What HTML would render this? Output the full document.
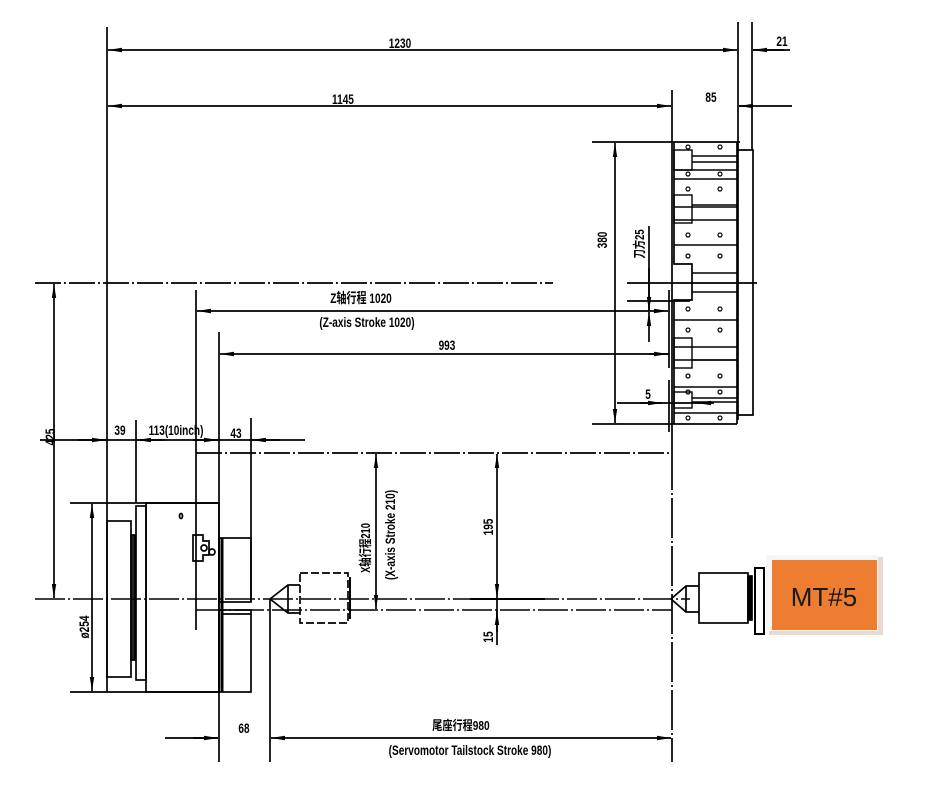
<!DOCTYPE html>
<html><head><meta charset="utf-8"><style>
html,body{margin:0;padding:0;background:#fff;}
svg{display:block}
text{font-family:"Liberation Sans","Noto Sans CJK SC",sans-serif;font-weight:bold;fill:#000;}
</style></head><body>
<svg width="936" height="801" viewBox="0 0 936 801" xmlns="http://www.w3.org/2000/svg">
<defs>
<marker id="a" viewBox="0 0 14 6" refX="14" refY="3" markerWidth="14" markerHeight="6" orient="auto-start-reverse" markerUnits="userSpaceOnUse"><path d="M0,0.8 L14,3 L0,5.2Z" fill="#000"/></marker>
</defs>
<g stroke="#000" stroke-width="1.7" fill="none">
<!-- top dims -->
<line x1="107" y1="27" x2="107" y2="692"/>
<line x1="738" y1="22" x2="738" y2="420"/>
<line x1="752" y1="22" x2="752" y2="150"/>
<line x1="672" y1="90" x2="672" y2="450"/>
<line x1="108" y1="50" x2="737" y2="50" marker-start="url(#a)" marker-end="url(#a)"/>
<line x1="753" y1="50" x2="790" y2="50"/>
<line x1="784" y1="50" x2="753" y2="50" marker-end="url(#a)"/>
<line x1="108" y1="106" x2="671" y2="106" marker-start="url(#a)" marker-end="url(#a)"/>
<line x1="739" y1="106" x2="792" y2="106"/>
<line x1="752" y1="106" x2="739" y2="106" marker-end="url(#a)"/>
<!-- turret -->
<line x1="592" y1="142" x2="740" y2="142"/>
<line x1="592" y1="424" x2="737" y2="424"/>
<line x1="615" y1="143" x2="615" y2="423" marker-start="url(#a)" marker-end="url(#a)"/>
<path d="M674 142 V264 H692 V300 H674 V424"/>
<line x1="737" y1="142" x2="737" y2="424"/>
<path d="M738 150 H753 V415 H738"/>
<g stroke-width="1.4">
<line x1="674" y1="170" x2="737" y2="170"/><line x1="674" y1="179" x2="737" y2="179"/>
<line x1="674" y1="207" x2="737" y2="207"/><line x1="674" y1="220" x2="737" y2="220"/>
<line x1="674" y1="245" x2="737" y2="245"/><line x1="692" y1="273" x2="737" y2="273"/>
<line x1="692" y1="292" x2="737" y2="292"/><line x1="674" y1="320" x2="737" y2="320"/>
<line x1="674" y1="347" x2="737" y2="347"/><line x1="674" y1="360" x2="737" y2="360"/>
<line x1="674" y1="387" x2="737" y2="387"/><line x1="674" y1="413" x2="737" y2="413"/>
<rect x="674" y="150" width="18" height="20"/><rect x="674" y="195" width="18" height="28"/>
<rect x="674" y="338" width="18" height="30"/><rect x="674" y="392" width="18" height="16"/>
<line x1="692" y1="156" x2="737" y2="156"/><line x1="692" y1="162" x2="737" y2="162"/>
<line x1="692" y1="205" x2="737" y2="205"/><line x1="692" y1="360" x2="737" y2="360"/>
<line x1="692" y1="398" x2="737" y2="398"/><line x1="692" y1="402" x2="737" y2="402"/>
</g>
<g stroke-width="1.2">
<circle cx="688" cy="147" r="2"/><circle cx="720" cy="147" r="2"/>
<circle cx="688" cy="174" r="2"/><circle cx="720" cy="174" r="2"/>
<circle cx="688" cy="189" r="2"/><circle cx="720" cy="189" r="2"/>
<circle cx="688" cy="235" r="2"/><circle cx="720" cy="235" r="2"/>
<circle cx="688" cy="256" r="2"/><circle cx="720" cy="256" r="2"/>
<circle cx="688" cy="309" r="2"/><circle cx="720" cy="309" r="2"/>
<circle cx="688" cy="330" r="2"/><circle cx="720" cy="330" r="2"/>
<circle cx="688" cy="376" r="2"/><circle cx="720" cy="376" r="2"/>
<circle cx="688" cy="392" r="2"/><circle cx="720" cy="392" r="2"/>
<circle cx="688" cy="418" r="2"/><circle cx="720" cy="418" r="2"/>
</g>
<line x1="627" y1="283" x2="757" y2="283"/>
<line x1="627" y1="301" x2="690" y2="301"/>
<line x1="669" y1="290" x2="669" y2="368"/>
<line x1="669" y1="380" x2="669" y2="432"/>
<line x1="649" y1="226" x2="649" y2="310"/>
<line x1="649" y1="268" x2="649" y2="311" marker-end="url(#a)"/>
<line x1="649" y1="342" x2="649" y2="312" marker-end="url(#a)"/>
<line x1="649" y1="354" x2="669" y2="354"/>
<line x1="617" y1="403" x2="700" y2="403"/>
<line x1="640" y1="403" x2="662" y2="403" marker-end="url(#a)"/>
<line x1="714" y1="403" x2="697" y2="403" marker-end="url(#a)"/>
<!-- Z dims -->
<line x1="35" y1="283" x2="553" y2="283" stroke-dasharray="26,3,2,3"/>
<line x1="196" y1="290" x2="196" y2="630"/>
<line x1="219" y1="332" x2="219" y2="762"/>
<line x1="197" y1="311" x2="668" y2="311" marker-start="url(#a)" marker-end="url(#a)"/>
<line x1="220" y1="354" x2="668" y2="354" marker-start="url(#a)" marker-end="url(#a)"/>
<!-- 425 -->
<line x1="54" y1="284" x2="54" y2="598" marker-start="url(#a)" marker-end="url(#a)"/>
<!-- 39/113/43 -->
<line x1="40" y1="440" x2="305" y2="440"/>
<line x1="78" y1="440" x2="106" y2="440" marker-end="url(#a)"/>
<line x1="164" y1="440" x2="137" y2="440" marker-end="url(#a)"/>
<line x1="193" y1="440" x2="218" y2="440" marker-end="url(#a)"/>
<line x1="280" y1="440" x2="252" y2="440" marker-end="url(#a)"/>
<line x1="136" y1="420" x2="136" y2="503"/>
<line x1="251" y1="418" x2="251" y2="602"/>
<line x1="196" y1="453" x2="672" y2="453" stroke-dasharray="26,3,2,3"/>
<!-- chuck -->
<line x1="70" y1="503" x2="219" y2="503"/>
<line x1="70" y1="692" x2="219" y2="692"/>
<line x1="92" y1="504" x2="92" y2="691" marker-start="url(#a)" marker-end="url(#a)"/>
<rect x="107" y="521" width="24" height="156"/>
<rect x="131" y="535" width="4" height="125" fill="#222"/>
<rect x="136" y="506" width="10" height="174"/>
<rect x="146" y="503" width="73" height="189"/>
<rect x="219" y="538" width="32" height="64"/>
<rect x="219" y="610" width="32" height="82"/>
<line x1="221" y1="614" x2="251" y2="614"/>
<line x1="222" y1="538" x2="222" y2="692" stroke-width="3"/>
<path d="M193 535 h10 v6 h6 v14 h-6 v6 h-10z"/>
<circle cx="204" cy="548" r="3"/><circle cx="212" cy="552" r="3"/>
<ellipse cx="181" cy="516" rx="1.5" ry="2.5"/>
<!-- center lines -->
<line x1="35" y1="599" x2="690" y2="599" stroke-dasharray="30,3,2,3" stroke-width="1.4"/>
<line x1="196" y1="610" x2="672" y2="610" stroke-dasharray="30,3,2,3" stroke-width="1.4"/>
<line x1="470" y1="599" x2="545" y2="599" stroke-width="2"/>
<!-- tailstock left -->
<path d="M270 599 L288 585 H300 M270 599 L288 613 H300"/>
<line x1="288" y1="585" x2="288" y2="613"/>
<rect x="300" y="573" width="48" height="50" stroke-dasharray="8,3"/>
<line x1="350" y1="577" x2="350" y2="619" stroke-width="2"/>
<line x1="270" y1="599" x2="270" y2="762"/>
<!-- X stroke / 195 -->
<line x1="376" y1="454" x2="376" y2="609" marker-start="url(#a)" marker-end="url(#a)"/>
<line x1="497" y1="454" x2="497" y2="598" marker-start="url(#a)" marker-end="url(#a)"/>
<line x1="497" y1="598" x2="497" y2="645"/>
<line x1="497" y1="632" x2="497" y2="611" marker-end="url(#a)"/>
<!-- right tailstock -->
<line x1="672" y1="450" x2="672" y2="762" stroke-dasharray="40,3,2,3"/>
<path d="M671 599 L686 586 H699 M671 599 L686 612 H699"/>
<line x1="686" y1="586" x2="686" y2="612"/>
<rect x="699" y="573" width="49" height="50"/>
<rect x="748" y="576" width="4" height="44" fill="#000"/>
<rect x="755" y="568" width="9" height="66" stroke-width="2"/>
<!-- bottom dims -->
<line x1="165" y1="738" x2="218" y2="738"/>
<line x1="193" y1="738" x2="218" y2="738" marker-end="url(#a)"/>
<line x1="271" y1="738" x2="671" y2="738" marker-start="url(#a)" marker-end="url(#a)"/>
</g>
<!-- MT5 box -->
<rect x="769" y="557" width="114" height="78" fill="#e9d9d0"/>
<rect x="766" y="555" width="112" height="76" fill="#f6f6f6"/>
<rect x="772" y="560" width="105" height="70" fill="#ED7D31"/>
<text x="824" y="606" text-anchor="middle" style="font-weight:normal;font-size:26px;fill:#1a1a1a">MT#5</text>
<!-- labels -->
<g font-size="14">
<text x="400" y="48" text-anchor="middle" transform="translate(400,0) scale(0.72,1) translate(-400,0)">1230</text>
<text x="782" y="46" text-anchor="middle" transform="translate(782,0) scale(0.72,1) translate(-782,0)">21</text>
<text x="343" y="104" text-anchor="middle" transform="translate(343,0) scale(0.72,1) translate(-343,0)">1145</text>
<text x="711" y="102" text-anchor="middle" transform="translate(711,0) scale(0.72,1) translate(-711,0)">85</text>
<text x="0" y="0" text-anchor="middle" transform="translate(607,240) rotate(-90) scale(0.72,1)">380</text>
<text x="0" y="0" text-anchor="middle" font-size="13" transform="translate(644,244) rotate(-90) scale(0.72,1)">刀方25</text>
<text x="648" y="399" text-anchor="middle" transform="translate(648,0) scale(0.72,1) translate(-648,0)">5</text>
<text x="361" y="303" text-anchor="middle" transform="translate(361,0) scale(0.72,1) translate(-361,0)">Z轴行程 1020</text>
<text x="367" y="327" text-anchor="middle" transform="translate(367,0) scale(0.72,1) translate(-367,0)">(Z-axis Stroke 1020)</text>
<text x="447" y="350" text-anchor="middle" transform="translate(447,0) scale(0.72,1) translate(-447,0)">993</text>
<text x="0" y="0" text-anchor="middle" transform="translate(55,437) rotate(-90) scale(0.72,1)">425</text>
<text x="120" y="435" text-anchor="middle" transform="translate(120,0) scale(0.72,1) translate(-120,0)">39</text>
<text x="176" y="435" text-anchor="middle" transform="translate(176,0) scale(0.72,1) translate(-176,0)">113(10inch)</text>
<text x="236" y="438" text-anchor="middle" transform="translate(236,0) scale(0.72,1) translate(-236,0)">43</text>
<text x="0" y="0" text-anchor="middle" transform="translate(89,627) rotate(-90) scale(0.72,1)">ø254</text>
<text x="0" y="0" text-anchor="middle" font-size="13" transform="translate(370,548) rotate(-90) scale(0.72,1)">X轴行程210</text>
<text x="0" y="0" text-anchor="middle" transform="translate(395,535) rotate(-90) scale(0.72,1)">(X-axis Stroke 210)</text>
<text x="0" y="0" text-anchor="middle" transform="translate(493,527) rotate(-90) scale(0.72,1)">195</text>
<text x="0" y="0" text-anchor="middle" transform="translate(493,637) rotate(-90) scale(0.72,1)">15</text>
<text x="244" y="733" text-anchor="middle" transform="translate(244,0) scale(0.72,1) translate(-244,0)">68</text>
<text x="461" y="730" text-anchor="middle" font-size="13" transform="translate(461,0) scale(0.78,1) translate(-461,0)">尾座行程980</text>
<text x="470" y="755" text-anchor="middle" transform="translate(470,0) scale(0.72,1) translate(-470,0)">(Servomotor Tailstock Stroke 980)</text>
</g>
</svg>
</body></html>
